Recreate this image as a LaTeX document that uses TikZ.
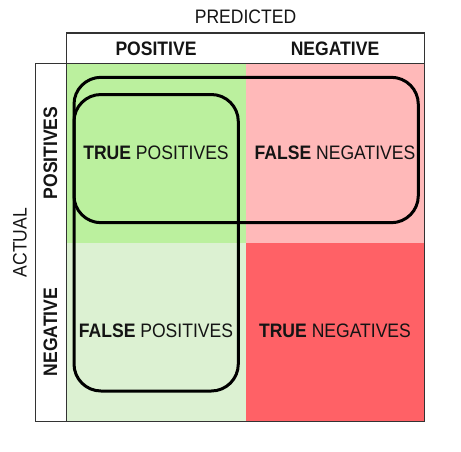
\documentclass[tikz,border=0pt]{standalone}
\usepackage{fontspec}
\setmainfont{Liberation Sans}[FakeStretch=0.9]
\definecolor{cTP}{RGB}{187,240,158}
\definecolor{cFN}{RGB}{255,185,185}
\definecolor{cFP}{RGB}{220,241,210}
\definecolor{cTN}{RGB}{255,97,102}
\definecolor{ink}{RGB}{20,20,20}
\begin{document}
\begin{tikzpicture}[x=1pt,y=-1pt,
  lbl/.style={font=\fontsize{19.5}{22}\selectfont, text=ink, inner sep=0pt},
  frame/.style={draw=black!80, line width=1.3pt},
  loopbox/.style={draw=black, line width=3pt, rounded corners=27pt}]
\useasboundingbox (0,0) rectangle (461,451);
% cells
\fill[cTP] (66.5,63.5) rectangle (245.5,243);
\fill[cFN] (245.5,63.5) rectangle (424.5,243);
\fill[cFP] (66.5,243) rectangle (245.5,421.5);
\fill[cTN] (245.5,243) rectangle (424.5,421.5);
% frames
\draw[frame] (66.5,33) rectangle (424.5,421.5);
\draw[frame] (66.5,63.5) -- (424.5,63.5);
\draw[frame] (35.5,63.5) rectangle (66.5,421.5);
% loops
\draw[loopbox] (74,77.3) rectangle (418.3,222.7);
\draw[loopbox] (74,94.5) rectangle (238.3,391);
% labels
\node[lbl] (pred) at (245.5,16.5) {PREDICTED};
\node[lbl] (hpos) at (156,48.5) {\textbf{POSITIVE}};
\node[lbl] (hneg) at (335,48.5) {\textbf{NEGATIVE}};
\node[lbl, rotate=90] (act) at (20,242.5) {ACTUAL};
\node[lbl, rotate=90] (apos) at (50.5,153) {\textbf{POSITIVES}};
\node[lbl, rotate=90] (aneg) at (50.5,332) {\textbf{NEGATIVE}};
\node[lbl] (tp) at (156,153) {\textbf{TRUE} POSITIVES};
\node[lbl] (fn) at (335,153) {\textbf{FALSE} NEGATIVES};
\node[lbl] (fp) at (156,331) {\textbf{FALSE} POSITIVES};
\node[lbl] (tn) at (335,331) {\textbf{TRUE} NEGATIVES};
\end{tikzpicture}
\end{document}
